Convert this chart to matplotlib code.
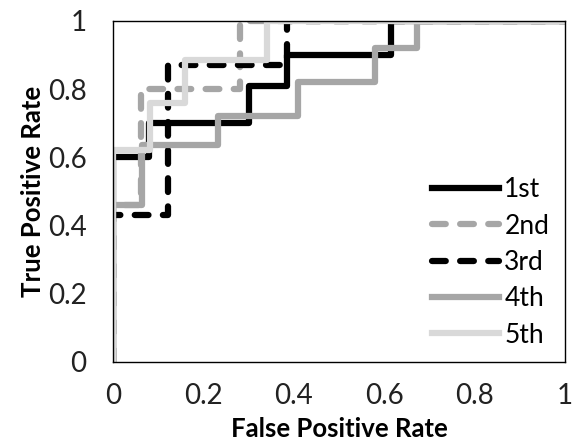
import matplotlib
matplotlib.use("Agg")
import matplotlib.pyplot as plt

# ROC step curves (false positive rate, true positive rate)
fpr_1st = [0, 0, 0.08, 0.08, 0.30, 0.30, 0.385, 0.385, 0.615, 0.615, 1]
tpr_1st = [0, 0.60, 0.60, 0.70, 0.70, 0.81, 0.81, 0.90, 0.90, 1, 1]

fpr_2nd = [0, 0, 0.062, 0.062, 0.282, 0.282, 1]
tpr_2nd = [0, 0.46, 0.46, 0.80, 0.80, 1, 1]

fpr_3rd = [0, 0, 0.122, 0.122, 0.385, 0.385, 1]
tpr_3rd = [0, 0.43, 0.43, 0.87, 0.87, 1, 1]

fpr_4th = [0, 0, 0.064, 0.064, 0.233, 0.233, 0.41, 0.41, 0.58, 0.58, 0.673, 0.673, 1]
tpr_4th = [0, 0.46, 0.46, 0.636, 0.636, 0.72, 0.72, 0.82, 0.82, 0.92, 0.92, 1, 1]

fpr_5th = [0, 0, 0.082, 0.082, 0.16, 0.16, 0.34, 0.34, 1]
tpr_5th = [0, 0.62, 0.62, 0.76, 0.76, 0.885, 0.885, 1, 1]

labels = ["1st", "2nd", "3rd", "4th", "5th"]
ticks = [0, 0.2, 0.4, 0.6, 0.8, 1]
tick_labels = ["0", "0.2", "0.4", "0.6", "0.8", "1"]

plt.rcParams['font.family'] = ['Lato', 'DejaVu Sans']

fig = plt.figure(figsize=(5.73, 4.45), dpi=100)
ax = fig.add_axes([0.197, 0.187, 0.789, 0.766])

lw = 4.5
dash = (2.2, 2.3)
ax.plot(fpr_1st, tpr_1st, color="black", lw=lw, label=labels[0])
ax.plot(fpr_2nd, tpr_2nd, color="#a6a6a6", lw=lw, dashes=dash,
        dash_capstyle="round", label=labels[1])
ax.plot(fpr_3rd, tpr_3rd, color="black", lw=lw, dashes=dash,
        dash_capstyle="round", label=labels[2])
ax.plot(fpr_4th, tpr_4th, color="#a6a6a6", lw=lw, label=labels[3])
ax.plot(fpr_5th, tpr_5th, color="#d9d9d9", lw=lw, label=labels[4])

ax.set_xlim(0, 1)
ax.set_ylim(0, 1)
ax.set_xticks(ticks)
ax.set_xticklabels(tick_labels)
ax.set_yticks(ticks)
ax.set_yticklabels(tick_labels)
ax.tick_params(length=0, labelsize=20, colors="#222222", pad=15)
ax.tick_params(axis="y", pad=19)

for sp in ax.spines.values():
    sp.set_color("black")
    sp.set_linewidth(1.0)

ax.set_xlabel("False Positive Rate", fontsize=18.5, fontweight="bold", labelpad=6)
ax.set_ylabel("True Positive Rate", fontsize=18.5, fontweight="bold", labelpad=2)

ax.legend(loc="lower right", bbox_to_anchor=(1.0, -0.005), frameon=False,
          fontsize=19, handlelength=2.55, handletextpad=0.2, labelspacing=0.43,
          borderaxespad=0.2)

fig.savefig("out.png", dpi=100)
